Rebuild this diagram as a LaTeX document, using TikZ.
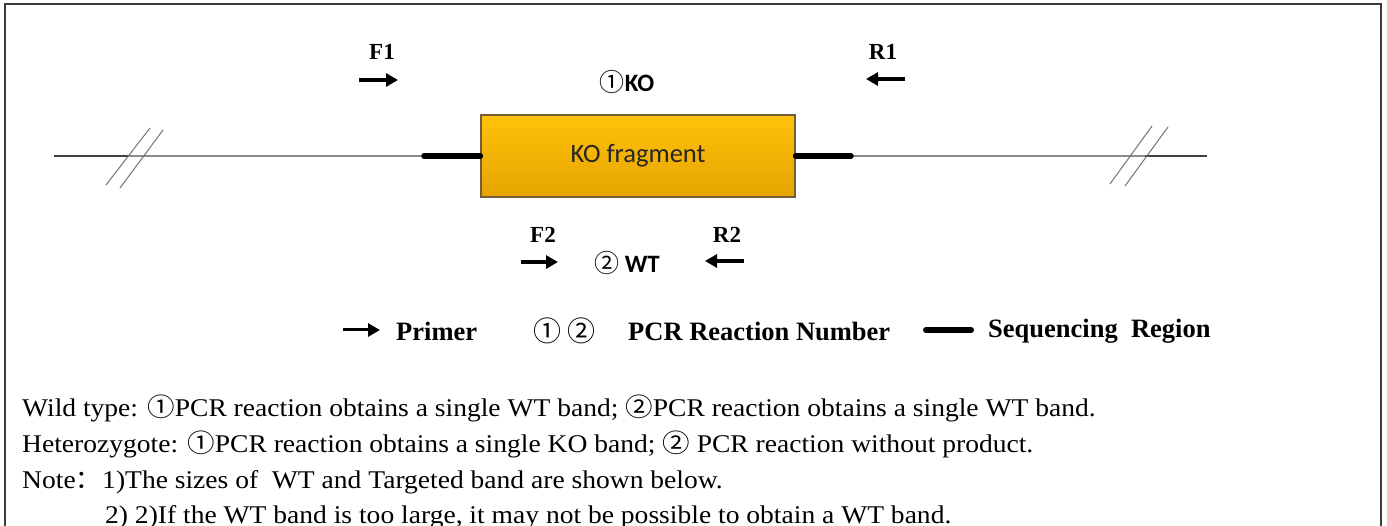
\documentclass[tikz,border=0pt]{standalone}
\usepackage{fontspec}
\setmainfont{Liberation Serif}
\newfontfamily\bodyfont[FakeStretch=1.08]{Liberation Serif}
\newfontfamily\calfont{Carlito}
\newfontfamily\cjkfont{Noto Sans CJK SC}
\newfontfamily\cjkwide[FakeStretch=1.08]{Noto Sans CJK SC}
\usetikzlibrary{arrows.meta}
\definecolor{boxtop}{RGB}{255,194,10}
\definecolor{boxbot}{RGB}{230,164,0}
\definecolor{boxedge}{RGB}{115,95,55}
\definecolor{framecol}{RGB}{60,60,60}
\begin{document}
\begin{tikzpicture}[x=1pt,y=-1pt,
  framestyle/.style={line width=2pt,framecol},
  darkline/.style={line width=1.6pt,black!75},
  grayline/.style={line width=2.2pt,black!45},
  seqline/.style={line width=5.5pt,black,line cap=round},
  breakmark/.style={line width=1pt,black!55},
  primer/.style={line width=3.4pt,-{Triangle[length=12pt,width=13pt]}},
  plabel/.style={font=\bfseries\fontsize{23}{26}\selectfont},
  calbold/.style={font=\calfont\bfseries\fontsize{25}{28}\selectfont},
  legend/.style={font=\bfseries\fontsize{26.5}{30}\selectfont,anchor=west,inner sep=0pt},
  bodytext/.style={font=\bodyfont\fontsize{25.5}{30}\selectfont,anchor=base west,inner sep=0pt},
]
\useasboundingbox (0,0) rectangle (1387,526);
\draw[framestyle] (5,526) -- (5,4) -- (1381,4) -- (1381,526);

% KO fragment box
\node[draw=boxedge,line width=1.2pt,top color=boxtop,bottom color=boxbot,
      minimum width=314pt,minimum height=82pt,inner sep=0pt,text=black!85,
      font=\calfont\fontsize{26.5}{30}\selectfont] (ko) at (638,156) {KO fragment};

% genomic line
\coordinate (L0) at (54,156);
\coordinate (L1) at (128,156);
\coordinate (L2) at (424,156);
\coordinate (R2) at (851,156);
\coordinate (R1) at (1145,156);
\coordinate (R0) at (1207,156);
\draw[darkline] (L0) -- (L1);
\draw[grayline] (L1) -- (L2);
\draw[darkline] (R1) -- (R0);
\draw[grayline] (R2) -- (R1);
\draw[seqline] (L2) -- (ko.west);
\draw[seqline] (ko.east) -- (R2);

% break marks
\draw[breakmark] (106,185) -- (150,128);
\draw[breakmark] (120,188) -- (163,130);
\draw[breakmark] (1110,184) -- (1152,126);
\draw[breakmark] (1125,186) -- (1168,127);

% primers, reaction 1
\node[plabel] (F1) at (382,52) {F1};
\coordinate (F1s) at (359,80);
\coordinate (F1e) at (398,80);
\draw[primer] (F1s) -- (F1e);
\node[plabel] (R1lab) at (883,52) {R1};
\coordinate (R1s) at (905,79);
\coordinate (R1e) at (866,79);
\draw[primer] (R1s) -- (R1e);
\node[calbold] (rx1) at (627,82) {{\cjkfont\mdseries ①}KO};

% primers, reaction 2
\node[plabel] (F2) at (543,235) {F2};
\coordinate (F2s) at (521,262);
\coordinate (F2e) at (558,262);
\draw[primer] (F2s) -- (F2e);
\node[plabel] (R2lab) at (727,235) {R2};
\coordinate (R2s) at (744,261);
\coordinate (R2e) at (705,261);
\draw[primer] (R2s) -- (R2e);
\node[calbold] (rx2) at (627,263) {{\cjkfont\mdseries ②} WT};

% legend
\coordinate (Ls) at (343,330);
\coordinate (Le) at (380,330);
\draw[primer,line width=3pt] (Ls) -- (Le);
\node[legend] (lprimer) at (396,331) {Primer};
\node[legend,font=\cjkfont\fontsize{28}{30}\selectfont] (lnum) at (533,331) {①\hspace{6pt}②};
\node[legend] (lpcr) at (628,331) {PCR Reaction Number};
\coordinate (Qs) at (926,330);
\coordinate (Qe) at (971,330);
\draw[seqline,line width=6pt] (Qs) -- (Qe);
\node[legend] (lseq) at (988,331) {Sequencing\ \ Region};

% body text
\node[bodytext] (t1) at (22,417) {Wild type: {\cjkwide ①}PCR reaction obtains a single WT band; {\cjkwide ②}PCR reaction obtains a single WT band.};
\node[bodytext] (t2) at (22,452) {Heterozygote: {\cjkwide ①}PCR reaction obtains a single KO band; {\cjkwide ②} PCR reaction without product.};
\node[bodytext] (t3) at (22,488) {Note{\cjkfont ：}\hspace{1pt}1)The sizes of\ \ WT and Targeted band are shown below.};
\node[bodytext] (t4) at (105,523) {2) 2)If the WT band is too large, it may not be possible to obtain a WT band.};
\end{tikzpicture}
\end{document}
